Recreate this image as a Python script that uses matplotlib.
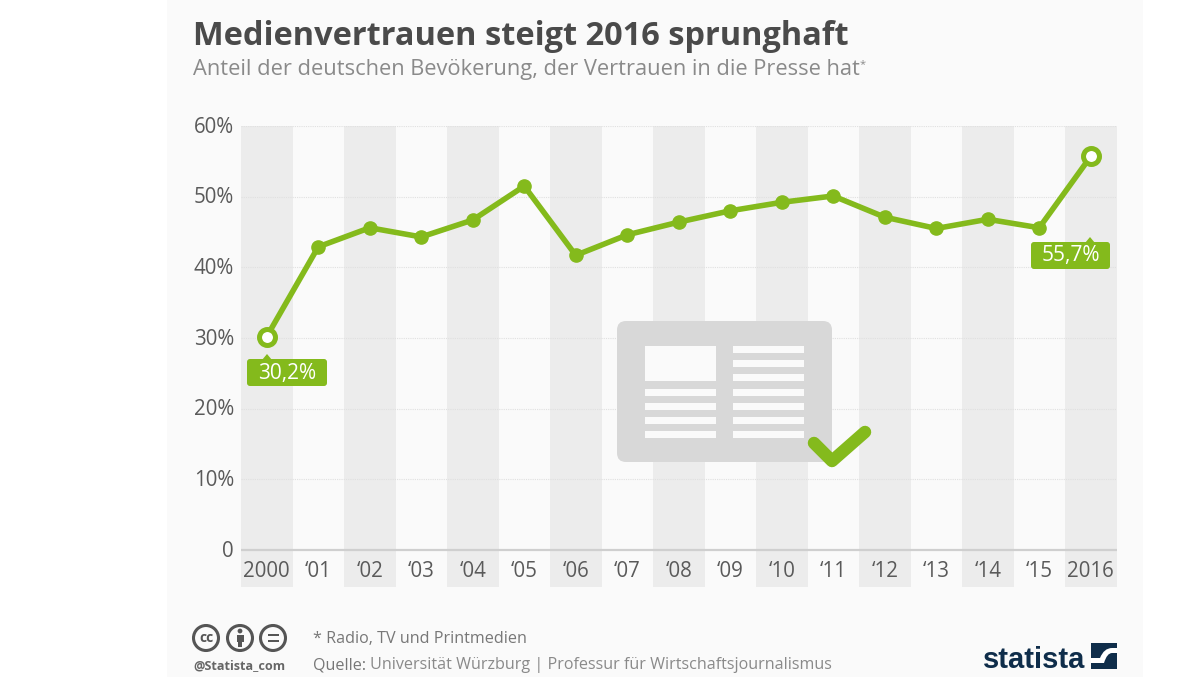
import matplotlib
matplotlib.use("Agg")
import matplotlib.pyplot as plt
from matplotlib.patches import Rectangle, FancyBboxPatch, Circle, Polygon, PathPatch
from matplotlib.path import Path
from matplotlib.transforms import ScaledTranslation

years = ["2000", "‘01", "‘02", "‘03", "‘04", "‘05", "‘06", "‘07", "‘08", "‘09", "‘10", "‘11", "‘12", "‘13", "‘14", "‘15", "2016"]
trust = [30.2, 42.9, 45.6, 44.3, 46.7, 51.5, 41.7, 44.6, 46.4, 48.0, 49.2, 50.1, 47.1, 45.5, 46.8, 45.6, 55.7]
yticks = [0, 10, 20, 30, 40, 50, 60]
ylabels = ["0", "10%", "20%", "30%", "40%", "50%", "60%"]
title = "Medienvertrauen steigt 2016 sprunghaft"
subtitle = "Anteil der deutschen Bevökerung, der Vertrauen in die Presse hat"
note = "* Radio, TV und Printmedien"
source_a = "Quelle: "
source_b = "Universität Würzburg | Professur für Wirtschaftsjournalismus"

GREEN = "#84ba1c"
BAND = "#ececec"
PANEL = "#fafafa"
W, H = 1200, 677
plt.rcParams["font.family"] = ["Open Sans", "DejaVu Sans"]

fig = plt.figure(figsize=(12, 6.77), dpi=100, facecolor="white")

# page background panel in pixel coordinates
bg = fig.add_axes([0, 0, 1, 1], zorder=0)
bg.set_xlim(0, W); bg.set_ylim(H, 0); bg.axis("off")
bg.add_patch(Rectangle((167, 0), 976, H, fc=PANEL, ec="none"))

# chart
L, R, T, B = 241, 1116.5, 126, 587
ax = fig.add_axes([L / W, 1 - B / H, (R - L) / W, (B - T) / H], zorder=1)
ax.patch.set_alpha(0)
ax.set_xlim(-0.5, 16.5)
ax.set_ylim(-37 / (424 / 60), 60)
for s in ax.spines.values():
    s.set_visible(False)
for i in range(0, len(years), 2):
    ax.axvspan(i - 0.5, i + 0.5, fc=BAND, ec="none", zorder=0)
for v in yticks[1:]:
    ax.axhline(v, color="#e0e0e0", lw=0.8, ls=(0, (1, 1)), zorder=1)
ax.axhline(0, color="#cfcfcf", lw=1.6, zorder=1)
ax.set_xticks(range(len(years)))
ax.set_xticklabels(years)
ax.set_yticks(yticks)
ax.set_yticklabels(ylabels)
ax.tick_params(length=0)
ax.tick_params(axis="x", pad=-19, labelsize=14.8, labelcolor="#5a5a5a")
ax.tick_params(axis="y", pad=5, labelsize=14.8, labelcolor="#5a5a5a")
nudge = ScaledTranslation(0, -1.2 / 100, fig.dpi_scale_trans)
for lab in ax.get_yticklabels():
    lab.set_verticalalignment("center")
    lab.set_transform(lab.get_transform() + nudge)

xs = list(range(len(years)))
ax.plot(xs, trust, color=GREEN, lw=4.0, zorder=3, solid_joinstyle="round")
ax.plot(xs[1:-1], trust[1:-1], "o", color=GREEN, ms=9.5, zorder=4)
ax.plot([xs[0], xs[-1]], [trust[0], trust[-1]], "o", mfc="white", mec=GREEN, mew=3.6, ms=11.5, zorder=5)

# overlay in pixel coordinates: texts, callouts and icons
ov = fig.add_axes([0, 0, 1, 1], zorder=2)
ov.set_xlim(0, W); ov.set_ylim(H, 0); ov.axis("off"); ov.patch.set_alpha(0)

ov.text(193, 45, title, fontsize=23.4, fontweight="bold", color="#4a4a4a", va="baseline", ha="left")
ov.text(193, 75, subtitle, fontsize=15.75, color="#8a8a8a", va="baseline", ha="left")
ov.text(863, 65, "*", fontsize=8, color="#8a8a8a", va="center", ha="center")

def callout(x0, x1, y0, y1, tipx, label):
    ov.add_patch(FancyBboxPatch((x0 + 3, y0 + 3), x1 - x0 - 6, y1 - y0 - 6,
                                boxstyle="round,pad=3,rounding_size=3", fc=GREEN, ec="none"))
    ov.add_patch(Polygon([(tipx - 5, y0 + 1), (tipx, y0 - 5), (tipx + 5, y0 + 1)], fc=GREEN, ec="none"))
    ov.text((x0 + x1) / 2, (y0 + y1) / 2 + 0.5, label, fontsize=15, fontweight="medium", color="white", ha="center", va="center")

callout(247, 327, 359, 386, 267, "30,2%")
callout(1031, 1110, 242, 269, 1090, "55,7%")

# newspaper icon
ICON = "#d8d8d8"
ov.add_patch(FancyBboxPatch((625, 329), 199, 125, boxstyle="round,pad=8,rounding_size=9", fc=ICON, ec="none"))
ov.add_patch(Rectangle((645, 346), 71, 35, fc=PANEL, ec="none"))
for y in [392, 406, 420, 434]:
    ov.add_patch(Rectangle((645, y - 3), 71, 6.5, fc=PANEL, ec="none"))
for y in [349, 363, 377, 392, 406, 420, 434]:
    ov.add_patch(Rectangle((733, y - 3), 71, 6.5, fc=PANEL, ec="none"))
ov.plot([814, 832, 865], [443, 461, 432], color=GREEN, lw=9.0, solid_capstyle="round", solid_joinstyle="round")

# footer
ov.text(313, 643, note, fontsize=11.6, color="#777777", va="baseline")
ov.text(313, 669, source_a, fontsize=11.65, color="#777777", va="baseline")
ov.text(370, 669, source_b, fontsize=11.65, color="#8a8a8a", va="baseline")

for cx in (206, 240, 273):
    ov.add_patch(Circle((cx, 638), 12.5, fc="none", ec="#555555", lw=2.2))
ov.text(206, 638, "cc", fontsize=10, fontweight="bold", color="#555555", ha="center", va="center")
ov.add_patch(Circle((240, 631), 2.4, fc="#555555", ec="none"))
ov.add_patch(Rectangle((236.5, 634.5), 7, 7, fc="#555555", ec="none"))
ov.add_patch(Rectangle((238, 640), 4, 7, fc="#555555", ec="none"))
ov.add_patch(Rectangle((267.5, 633.5), 11, 2.4, fc="#555555", ec="none"))
ov.add_patch(Rectangle((267.5, 640), 11, 2.4, fc="#555555", ec="none"))
ov.text(193, 669, "@Statista_com", fontsize=9.1, fontweight="bold", color="#666666", va="baseline")

# statista logo
NAVY = "#0f2d4a"
ov.text(983, 668, "statista", fontsize=21, fontweight="bold", family=["Liberation Sans Narrow", "Liberation Sans"],
        color=NAVY, va="baseline")
ov.add_patch(Rectangle((1091, 643), 26, 26, fc=NAVY, ec="none"))
s = Path([(1091, 658), (1100, 658), (1104, 648), (1112, 648), (1117, 648), (1117, 653),
          (1112, 653), (1107, 653), (1104, 663), (1091, 663), (1091, 658)],
         [Path.MOVETO, Path.LINETO, Path.CURVE3, Path.CURVE3, Path.LINETO, Path.LINETO,
          Path.LINETO, Path.CURVE3, Path.CURVE3, Path.LINETO, Path.CLOSEPOLY])
ov.add_patch(PathPatch(s, fc="white", ec="none"))

fig.savefig("out.png", dpi=100, facecolor="white")
